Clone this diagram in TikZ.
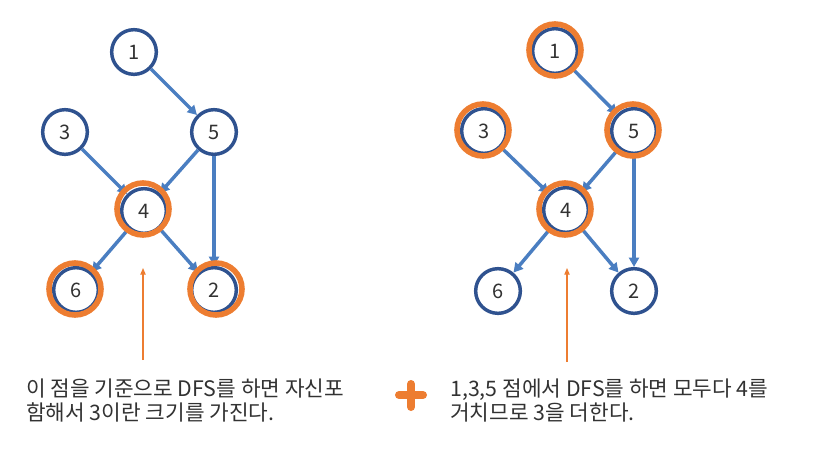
\documentclass[tikz,border=0pt]{standalone}
\usepackage{fontspec}
\setmainfont{Noto Sans CJK KR}
\usetikzlibrary{arrows.meta}
\definecolor{nodeblue}{RGB}{47,82,143}
\definecolor{edgeblue}{RGB}{74,126,193}
\definecolor{markorange}{RGB}{237,125,49}
\definecolor{textgray}{RGB}{50,50,50}

\begin{document}
\begin{tikzpicture}[x=0.75pt, y=-0.75pt,
    vertex/.style={draw=nodeblue, line width=2.6pt, circle, fill=white,
                   minimum size=33.5pt, inner sep=0pt, text=textgray,
                   font=\fontsize{15pt}{17pt}\selectfont},
    edge/.style={draw=edgeblue, line width=2.6pt, -{Triangle[length=7pt,width=7.5pt]}},
    ring/.style={draw=markorange, line width=4.2pt},
    pointer/.style={draw=markorange, line width=0.8pt, -{Triangle[length=5pt,width=4pt]}},
    plusmark/.style={draw=markorange, line width=6pt, line cap=round},
    caption/.style={anchor=north west, inner sep=0pt, align=left, text=textgray,
                    font=\fontsize{16pt}{18pt}\selectfont}]
    \useasboundingbox (0,0) rectangle (833,464);

    % left graph
    \node[vertex] (l1) at (134,52)  {1};
    \node[vertex] (l3) at (65,132)  {3};
    \node[vertex] (l5) at (214,132) {5};
    \node[vertex] (l4) at (144,211) {4};
    \node[vertex] (l6) at (76,290)  {6};
    \node[vertex] (l2) at (214,290) {2};
    \draw[edge] (l1) -- (l5);
    \draw[edge] (l3) -- (l4);
    \draw[edge] (l5) -- (l4);
    \draw[edge] (l5) -- (l2);
    \draw[edge] (l4) -- (l6);
    \draw[edge] (l4) -- (l2);
    \draw[ring] (l4) ++(-1,-2) circle[radius=19.5pt];
    \draw[ring] (l6) ++(-1,-1) circle[radius=19.5pt];
    \draw[ring] (l2) ++(2,-1) circle[radius=19.5pt];

    % right graph
    \node[vertex] (r1) at (555,51)  {1};
    \node[vertex] (r3) at (484,131) {3};
    \node[vertex] (r5) at (634,131) {5};
    \node[vertex] (r4) at (566,210) {4};
    \node[vertex] (r6) at (498,291) {6};
    \node[vertex] (r2) at (634,291) {2};
    \draw[edge] (r1) -- (r5);
    \draw[edge] (r3) -- (r4);
    \draw[edge] (r5) -- (r4);
    \draw[edge] (r5) -- (r2);
    \draw[edge] (r4) -- (r6);
    \draw[edge] (r4) -- (r2);
    \draw[ring] (r1) ++(0,-1) circle[radius=19.5pt];
    \draw[ring] (r3) ++(-1,-1) circle[radius=19.5pt];
    \draw[ring] (r5) ++(-1,-1) circle[radius=19.5pt];
    \draw[ring] (r4) ++(-1,-1) circle[radius=19.5pt];

    % pointers and captions
    \coordinate (lfoot) at (143,360);
    \coordinate (ltip)  at (143,268);
    \coordinate (rfoot) at (567,362);
    \coordinate (rtip)  at (567,268);
    \draw[pointer] (lfoot) -- (ltip);
    \draw[pointer] (rfoot) -- (rtip);
    \node[caption] (lnote) at (26,379)
      {이 점을 기준으로 DFS를 하면 자신포\\함해서 3이란 크기를 가진다.};
    \draw[plusmark] (399,395) -- (423,395);
    \draw[plusmark] (411,384) -- (411,407);
    \node[caption] (rnote) at (450,379)
      {1,3,5 점에서 DFS를 하면 모두다 4를\\거치므로 3을 더한다.};
  \end{tikzpicture}
\end{document}
